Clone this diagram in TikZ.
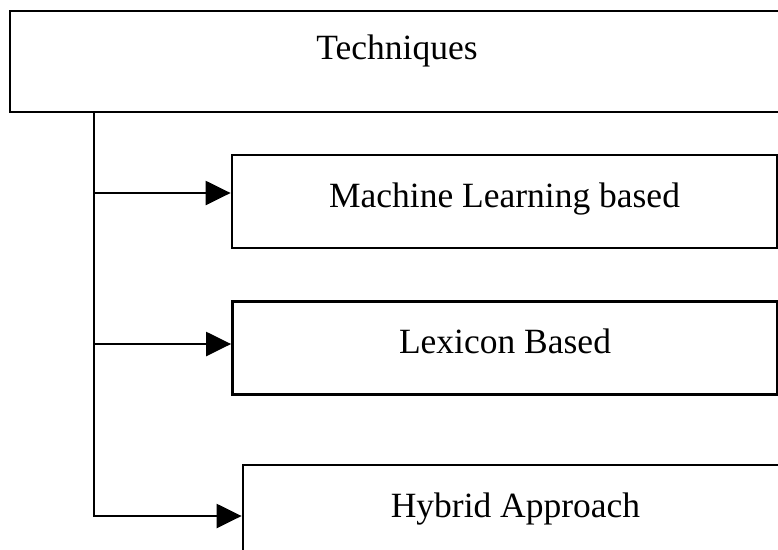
\documentclass[tikz,border=0pt]{standalone}
\usepackage{fontspec}
\setmainfont{Liberation Serif}
\usetikzlibrary{arrows.meta}

\begin{document}
\begin{tikzpicture}[
  x=1pt, y=-1pt,
  every node/.style={inner sep=0pt},
  box/.style={
    draw, line width=2.8pt, fill=white,
    minimum width=545pt, minimum height=93pt,
    text height=26pt, text depth=15pt,
    font=\fontsize{35.5}{40}\selectfont
  },
  topbox/.style={box, minimum width=774pt, minimum height=101pt, text depth=31pt},
  feed/.style={line width=2.4pt, -{Triangle[length=25pt, width=24pt]}}
]
\useasboundingbox (0,0) rectangle (778,549);
\clip (0,0) rectangle (778,549);

% Top: the heading box
\node[topbox] (tech) at (397,61.5) {Techniques};

% Right column: the three kinds of technique
\node[box] (ml)     at (504.5,201.5) {Machine Learning based};
\node[box] (lex)    at (505,348)     {Lexicon Based};
\node[box] (hybrid) at (515.5,511.5) {Hybrid Approach};

% Trunk down the left, with a branch to each box
\coordinate (trunk) at (94,112);
\draw[feed] (trunk) |- ([yshift=-4.5pt]hybrid.west);
\draw[feed] ([yshift=8.5pt]trunk |- ml.west) -- ([yshift=8.5pt]ml.west);
\draw[feed] ([yshift=4pt]trunk |- lex.west) -- ([yshift=4pt]lex.west);

\end{tikzpicture}
\end{document}
